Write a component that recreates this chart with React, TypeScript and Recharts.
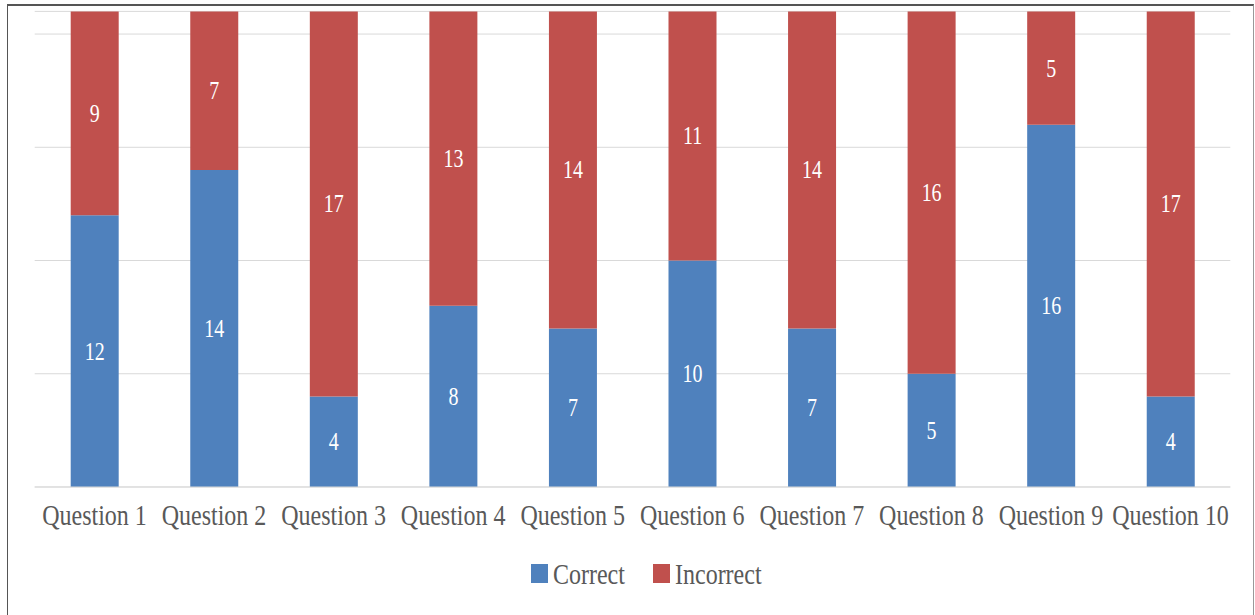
import { Bar, BarChart, CartesianGrid, LabelList, Legend, XAxis, YAxis } from "recharts";

const questions = [
  "Question 1", "Question 2", "Question 3", "Question 4", "Question 5",
  "Question 6", "Question 7", "Question 8", "Question 9", "Question 10",
];
const correct = [12, 14, 4, 8, 7, 10, 7, 5, 16, 4];
const incorrect = [9, 7, 17, 13, 14, 11, 14, 16, 5, 17];
const yTicks = [0, 5, 10, 15, 20];

const data = questions.map((q, i) => ({ q, correct: correct[i], incorrect: incorrect[i] }));

const FONT = "Liberation Serif, Times New Roman, serif";
const BLUE = "#4f81bd";
const RED = "#c0504d";
const TEXT = "#595959";
// the source picture is squeezed horizontally, so text is drawn narrower than tall
const SQUEEZE = 0.8;

function XTick({ x, y, payload }: any) {
  return (
    <text
      transform={`translate(${x},${y + 38}) scale(${SQUEEZE},1)`}
      textAnchor="middle"
      fontSize={30}
      fontFamily={FONT}
      fill={TEXT}
    >
      {payload.value}
    </text>
  );
}

function BarLabel({ x, y, width, height, value }: any) {
  const cx = Number(x) + Number(width) / 2;
  const cy = Number(y) + Number(height) / 2 + 8.5;
  return (
    <text transform={`translate(${cx},${cy}) scale(${SQUEEZE},1)`} textAnchor="middle" fontSize={25} fontFamily={FONT} fill="#fff">
      {value}
    </text>
  );
}

// legend drawn as svg so the text can be squeezed like the rest
function LegendBox({ payload }: any) {
  const items = payload ?? [];
  const slots = [531, 653]; // left edge of each swatch
  return (
    <svg width={1255} height={40}>
      {items.map((it: any, i: number) => (
        <g key={it.value}>
          <rect x={slots[i]} y={6} width={17} height={19} fill={it.color} />
          <text
            transform={`translate(${slots[i] + 22},${26}) scale(${SQUEEZE},1)`}
            fontSize={30}
            fontFamily={FONT}
            fill={TEXT}
          >
            {it.value}
          </text>
        </g>
      ))}
    </svg>
  );
}

export default function App() {
  return (
    <div style={{ position: "absolute", left: 0, top: 0, width: 1255, height: 615, background: "#fff" }}>
      {/* outer frame like the exported picture */}
      <div
        style={{
          position: "absolute",
          left: 7,
          top: 4,
          width: 1245,
          height: 640,
          borderLeft: "1.5px solid #555",
          borderTop: "2px solid #555",
          borderRight: "1px solid #999",
        }}
      />
      <div style={{ position: "absolute", left: 0, top: 0 }}>
        <BarChart
          width={1255}
          height={615}
          data={data}
          margin={{ top: 11.4, right: 24.7, left: 34.7, bottom: 58 }}
          barSize={48}
        >
          <CartesianGrid stroke="#d9d9d9" vertical={false} />
          <XAxis
            dataKey="q"
            interval={0}
            height={30}
            tickLine={false}
            tickSize={0}
            tickMargin={0}
            axisLine={{ stroke: "#d9d9d9" }}
            tick={<XTick />}
          />
          <YAxis hide domain={[0, 21]} ticks={yTicks} />
          <Legend height={40} content={<LegendBox />} wrapperStyle={{ top: 558, left: 0, width: 1255 }} />
          <Bar dataKey="correct" name="Correct" stackId="a" fill={BLUE} isAnimationActive={false}>
            <LabelList dataKey="correct" content={<BarLabel />} />
          </Bar>
          <Bar dataKey="incorrect" name="Incorrect" stackId="a" fill={RED} isAnimationActive={false}>
            <LabelList dataKey="incorrect" content={<BarLabel />} />
          </Bar>
        </BarChart>
      </div>
    </div>
  );
}
